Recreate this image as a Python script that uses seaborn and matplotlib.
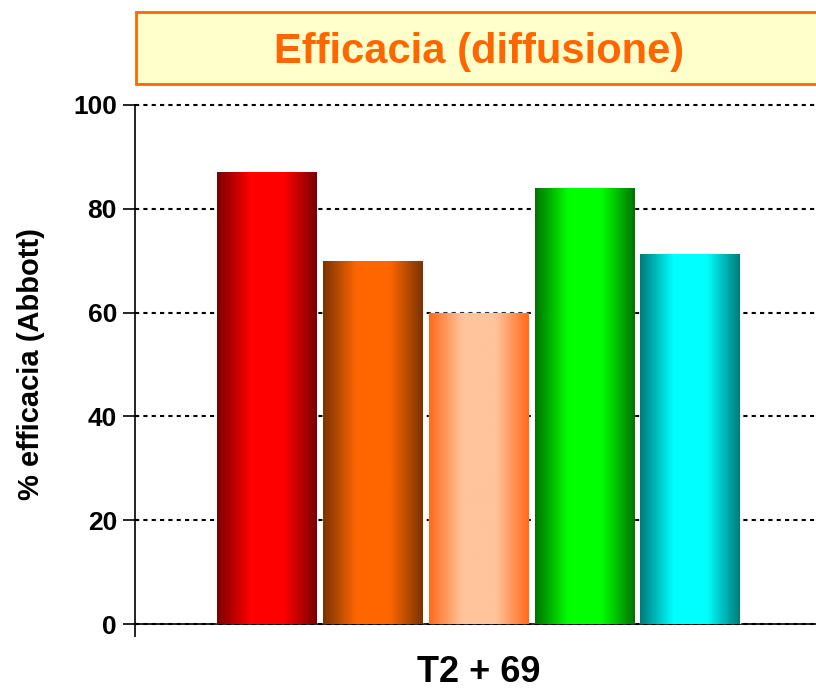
import matplotlib
matplotlib.use("Agg")
import matplotlib.pyplot as plt
import seaborn as sns
import pandas as pd
import numpy as np
from matplotlib.colors import LinearSegmentedColormap
from matplotlib.patches import Rectangle

# data
group = ["T2 + 69"]
treatments = ["A", "B", "C", "D", "E"]
values = [87, 70, 60, 84, 71.3]
# (edge colour, centre colour) for the shaded bars
shades = [("#7a0000", "#ff0000"),
          ("#7a3300", "#ff6600"),
          ("#ff6a1a", "#ffc49c"),
          ("#007300", "#00ff00"),
          ("#007a7a", "#00ffff")]

sns.set_style("white")
plt.rcParams['font.family'] = ['Liberation Sans', 'DejaVu Sans']
plt.rcParams['font.weight'] = 'bold'
plt.rcParams['text.color'] = 'black'
plt.rcParams['axes.labelcolor'] = 'black'
plt.rcParams['xtick.color'] = 'black'
plt.rcParams['ytick.color'] = 'black'

df = pd.DataFrame({"group": group * len(treatments),
                   "treatment": treatments,
                   "value": values})

fig = plt.figure(figsize=(8.16, 6.9), dpi=100)
ax = fig.add_axes([135 / 816, 66 / 690, 1 - 135 / 816, (624 - 105) / 690])

sns.barplot(data=df, x="group", y="value", hue="treatment",
            palette=[s[1] for s in shades], gap=0.06, legend=False,
            edgecolor="#f2f2f2", linewidth=1, ax=ax, zorder=3)

xl = (-0.519, 0.510)
# horizontal gradient on every bar, clipped to the bar
for patch, (edge, mid) in zip(ax.patches, shades):
    cm = LinearSegmentedColormap.from_list("", [edge, mid, mid, edge])
    x0, w, h = patch.get_x(), patch.get_width(), patch.get_height()
    grad = np.linspace(0, 1, 256).reshape(1, -1)
    im = ax.imshow(grad, cmap=cm, extent=[x0, x0 + w, 0, h], aspect="auto",
                   zorder=3.5, interpolation="bicubic")
    im.set_clip_path(patch)

ax.set_xlim(*xl)
ax.set_ylim(0, 100)
ax.set_yticks([0, 20, 40, 60, 80, 100])
ax.yaxis.grid(True, color="black", linestyle=(0, (2, 2)), linewidth=1.5)
for gl in ax.get_ygridlines():
    gl.set_clip_on(False)
ax.set_axisbelow(True)

for s in ["top", "right"]:
    ax.spines[s].set_visible(False)
ax.spines["left"].set_linewidth(1.2)
ax.spines["bottom"].set_linewidth(1.2)
ax.spines["left"].set_color("black")
ax.spines["bottom"].set_color("black")

ax.tick_params(axis="y", direction="out", length=9, width=1.2, labelsize=19, pad=4,
               left=True)
ax.tick_params(axis="x", which="major", length=0, labelsize=26, pad=22)
ax.set_xticks([xl[0]], minor=True)
ax.tick_params(axis="x", which="minor", direction="out", length=9, width=1.2, bottom=True)
for t in ax.get_xticklabels() + ax.get_yticklabels():
    t.set_fontweight("bold")

ax.set_xlabel("")
ax.set_ylabel("% efficacia (Abbott)", fontsize=21, fontweight="bold", labelpad=20)

# title box
fig.patches.append(Rectangle((136 / 816, 1 - 84 / 690), 0.9, 72 / 690,
                             transform=fig.transFigure, facecolor="#ffffcc",
                             edgecolor="#ff6600", linewidth=2))
fig.text(479 / 816, 1 - 52 / 690, "Efficacia (diffusione)", color="#ff6600",
         fontsize=30, fontweight="bold", ha="center", va="center")

fig.savefig("out.png", dpi=100)
